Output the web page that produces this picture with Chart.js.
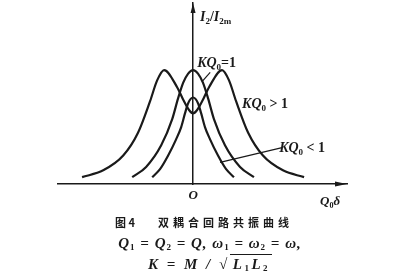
<!DOCTYPE html>
<html lang="zh">
<head>
<meta charset="UTF-8">
<title>双耦合回路共振曲线</title>
<script src="https://cdn.jsdelivr.net/npm/chart.js"></script>
<style>
  body { margin: 0; background: #fff; }
  #box { position: relative; width: 400px; height: 279px; overflow: hidden; }
  #plot { position: absolute; left: 0; top: 0; width: 400px; height: 279px; }
  .cap { position: absolute; font: bold 11px "Noto Sans CJK SC"; line-height: 12px; color: #1a1a1a; white-space: nowrap; }
  .eq { position: absolute; left: 10px; width: 400px; text-align: center; font: italic bold 15px "Liberation Serif"; line-height: 15px; color: #1a1a1a; white-space: nowrap; letter-spacing: 1px; }
  .eq sub { font-size: 0.6em; font-style: normal; vertical-align: -0.2em; line-height: 0; }
  .eq .rad { border-top: 1.2px solid #1a1a1a; padding: 1px 2px 0 3px; }
</style>
</head>
<body>
<div id="box">
  <div id="plot"><canvas id="myChart"></canvas></div>
  <div class="cap" style="left:115px;top:216px">图 4</div>
  <div class="cap" style="left:158px;top:216px;letter-spacing:4px">双耦合回路共振曲线</div>
  <div class="eq" style="top:236px">Q<sub>1</sub> = Q<sub>2</sub> = Q, ω<sub>1</sub> = ω<sub>2</sub> = ω,</div>
  <div class="eq" style="top:257px;letter-spacing:2.5px">K = M / √<span class="rad">L<sub>1</sub>L<sub>2</sub></span></div>
</div>

<script>
  // values: x is Q0·δ (peak of the KQ0>1 curve at ±1), y is I2/I2m
  const overX = [-3.83, -3.10, -2.41, -1.90, -1.48, -1.24, -1.00, -0.55, -0.34, -0.14, 0, 0.14, 0.34, 0.55, 1.00, 1.24, 1.48, 1.90, 2.41, 3.10, 3.83];
  const overY = [0.06, 0.12, 0.25, 0.45, 0.73, 0.91, 1.00, 0.85, 0.74, 0.65, 0.62, 0.65, 0.74, 0.85, 1.00, 0.91, 0.73, 0.45, 0.25, 0.12, 0.06];

  const critX = [-2.10, -1.62, -1.10, -0.72, -0.52, -0.34, -0.17, 0, 0.17, 0.34, 0.52, 0.72, 1.10, 1.62, 2.10];
  const critY = [0.06, 0.15, 0.34, 0.57, 0.75, 0.89, 0.97, 1.00, 0.97, 0.89, 0.75, 0.57, 0.34, 0.15, 0.06];

  const underX = [-1.41, -1.14, -0.86, -0.59, -0.41, -0.28, -0.17, 0, 0.17, 0.28, 0.41, 0.59, 0.86, 1.14, 1.41];
  const underY = [0.06, 0.13, 0.25, 0.39, 0.50, 0.62, 0.71, 0.76, 0.71, 0.62, 0.50, 0.39, 0.25, 0.13, 0.06];

  const ink = '#1a1a1a';
  const serif = '"Liberation Serif"';

  function pts(xs, ys) {
    return xs.map((x, i) => ({ x: x, y: ys[i] }));
  }

  // text with subscripts: parts are [text, 'i' italic | 'r' roman | 's' subscript]
  function drawParts(ctx, parts, x, y, size, align) {
    const fonts = parts.map(p => p[1] === 's' ? `bold ${Math.round(size * 0.62)}px ${serif}`
      : p[1] === 'r' ? `bold ${size}px ${serif}` : `italic bold ${size}px ${serif}`);
    let w = 0;
    parts.forEach((p, i) => { ctx.font = fonts[i]; w += ctx.measureText(p[0]).width; });
    let cx = align === 'center' ? x - w / 2 : x;
    parts.forEach((p, i) => {
      ctx.font = fonts[i];
      ctx.fillText(p[0], cx, p[1] === 's' ? y + size * 0.2 : y);
      cx += ctx.measureText(p[0]).width;
    });
  }

  const decor = {
    id: 'decor',
    afterDatasetsDraw(chart) {
      const ctx = chart.ctx;
      const xs = chart.scales.x, ys = chart.scales.y;
      const x0 = xs.getPixelForValue(0), y0 = ys.getPixelForValue(0);
      ctx.save();
      ctx.fillStyle = ink;
      ctx.strokeStyle = ink;
      // arrow heads
      ctx.beginPath();
      ctx.moveTo(x0, ys.top);
      ctx.lineTo(x0 - 2.5, ys.top + 10);
      ctx.lineTo(x0 + 2.5, ys.top + 10);
      ctx.closePath();
      ctx.fill();
      ctx.beginPath();
      ctx.moveTo(xs.right, y0);
      ctx.lineTo(xs.right - 12, y0 - 2.5);
      ctx.lineTo(xs.right - 12, y0 + 2.5);
      ctx.closePath();
      ctx.fill();

      // leader lines
      const P = (x, y) => [xs.getPixelForValue(x), ys.getPixelForValue(y)];
      ctx.lineWidth = 1.2;
      [[[0.59, 0.98], [0.31, 0.90]], [[3.07, 0.32], [0.93, 0.19]]].forEach(seg => {
        const a = P(seg[0][0], seg[0][1]), b = P(seg[1][0], seg[1][1]);
        ctx.beginPath();
        ctx.moveTo(a[0], a[1]);
        ctx.lineTo(b[0], b[1]);
        ctx.stroke();
      });

      // labels
      ctx.textBaseline = 'alphabetic';
      let p = P(0.24, 1.43);
      drawParts(ctx, [['I', 'i'], ['2', 's'], ['/', 'r'], ['I', 'i'], ['2m', 's']], p[0], p[1], 14);
      p = P(0.14, 1.03);
      drawParts(ctx, [['KQ', 'i'], ['0', 's'], ['=1', 'r']], p[0], p[1], 14);
      p = P(1.69, 0.67);
      drawParts(ctx, [['KQ', 'i'], ['0', 's'], [' > 1', 'r']], p[0], p[1], 14);
      p = P(2.97, 0.28);
      drawParts(ctx, [['KQ', 'i'], ['0', 's'], [' < 1', 'r']], p[0], p[1], 14);
      drawParts(ctx, [['O', 'i']], x0, y0 + 15, 13, 'center');
      drawParts(ctx, [['Q', 'i'], ['0', 's'], ['δ', 'i']], xs.right - 27, y0 + 21, 13);
      ctx.restore();
    }
  };

  const curve = (data) => ({
    data: data,
    showLine: true,
    borderColor: ink,
    borderWidth: 2.2,
    pointRadius: 0,
    cubicInterpolationMode: 'monotone',
    fill: false
  });

  const ctx = document.getElementById('myChart').getContext('2d');
  const myChart = new Chart(ctx, {
    type: 'scatter',
    data: {
      datasets: [
        curve(pts(overX, overY)),
        curve(pts(critX, critY)),
        curve(pts(underX, underY))
      ]
    },
    options: {
      responsive: true,
      maintainAspectRatio: false,
      animation: false,
      layout: { padding: { left: 58, right: 53, top: 3, bottom: 95 } },
      plugins: { legend: { display: false }, tooltip: { enabled: false } },
      scales: {
        x: {
          type: 'linear',
          min: -4.66,
          max: 5.31,
          position: { y: 0 },
          grid: { display: false, drawTicks: false },
          ticks: { display: false },
          border: { display: true, color: ink, width: 1.5 }
        },
        y: {
          type: 'linear',
          min: 0,
          max: 1.59,
          position: { x: 0 },
          grid: { display: false, drawTicks: false },
          ticks: { display: false },
          border: { display: true, color: ink, width: 1.5 }
        }
      }
    },
    plugins: [decor]
  });
</script>
</body>
</html>
